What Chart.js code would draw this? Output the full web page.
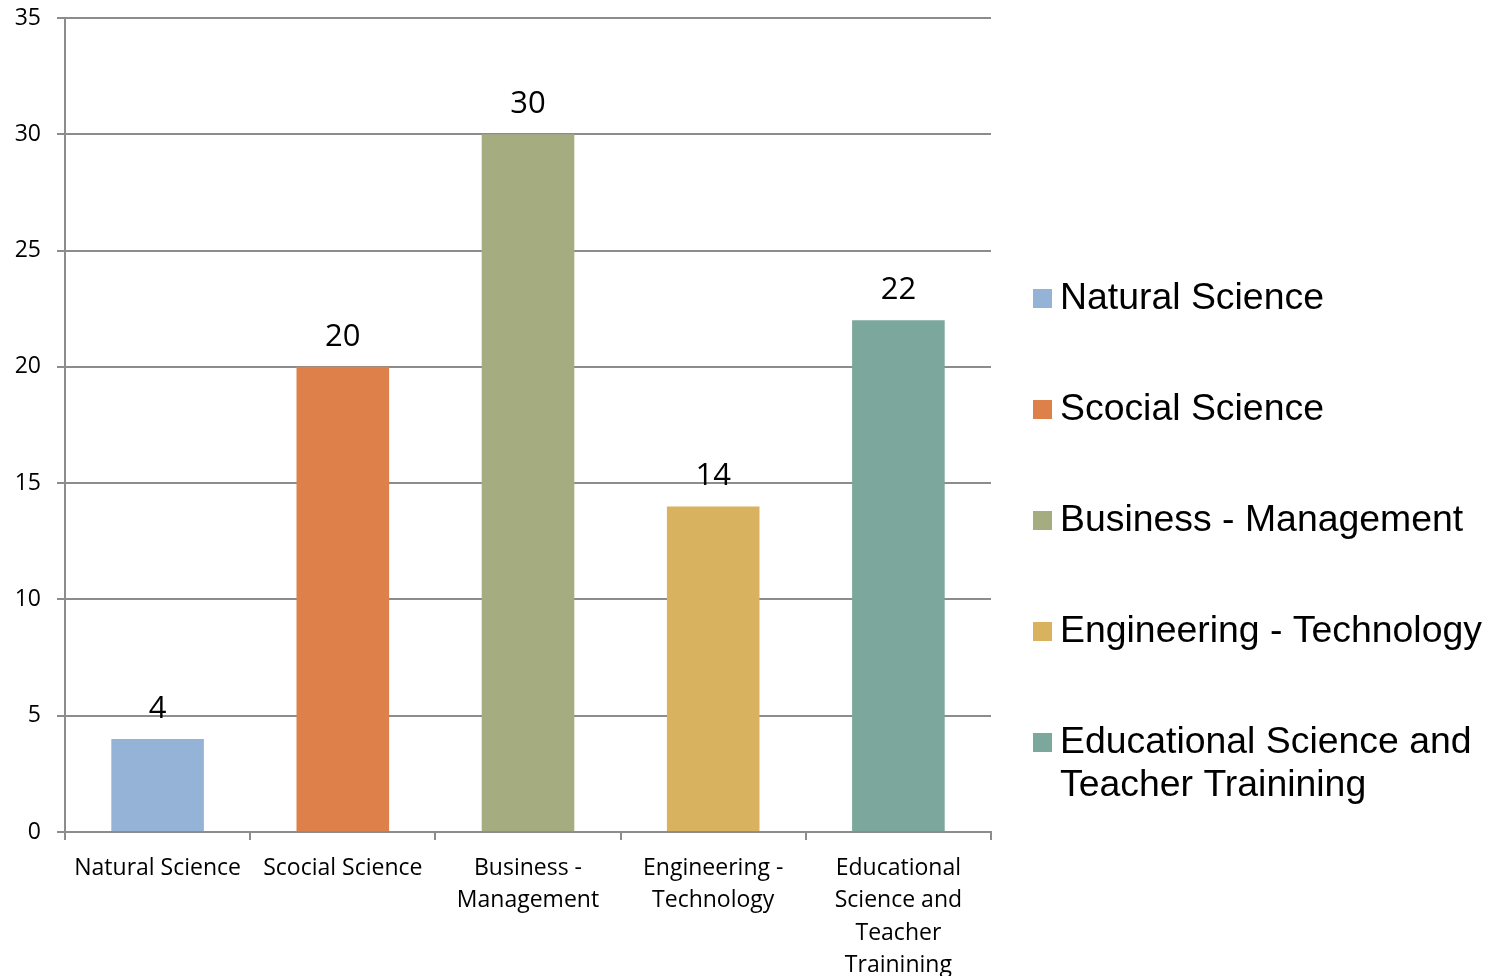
<!DOCTYPE html>
<html>
<head>
<meta charset="utf-8">
<script src="https://cdn.jsdelivr.net/npm/chart.js@4.4.1/dist/chart.umd.min.js"></script>
<style>
  html, body { margin: 0; padding: 0; background: #fff; }
  #wrap { position: relative; width: 1495px; height: 976px; }
</style>
</head>
<body>
<div id="wrap"><canvas id="chart" width="1495" height="976"></canvas></div>
<script>
// Dados do gráfico
const categories = ['Natural Science', 'Scocial Science', 'Business - Management', 'Engineering - Technology', 'Educational Science and Teacher Trainining'];
const tickLabels = [['Natural Science'], ['Scocial Science'], ['Business -', 'Management'], ['Engineering -', 'Technology'], ['Educational', 'Science and', 'Teacher', 'Trainining']];
const legendLines = [['Natural Science'], ['Scocial Science'], ['Business - Management'], ['Engineering - Technology'], ['Educational Science and', 'Teacher Trainining']];
const values = [4, 20, 30, 14, 22];
const barColors = ['#95b3d7', '#dd8049', '#a4ac80', '#d8b25e', '#7ba79c'];

const axisFont = "'Open Sans', sans-serif";
const legendFont = "'Liberation Sans', Arial, sans-serif";
const lineGray = '#8c8c8c';

// Rótulos de valor acima das barras
const valueLabels = {
    id: 'valueLabels',
    afterDatasetsDraw(chart) {
        const ctx = chart.ctx;
        const meta = chart.getDatasetMeta(0);
        ctx.save();
        ctx.font = "31px " + axisFont;
        ctx.fillStyle = '#000';
        ctx.textAlign = 'center';
        ctx.textBaseline = 'alphabetic';
        meta.data.forEach((bar, i) => {
            ctx.fillText(String(values[i]), bar.x, bar.y - 21);
        });
        ctx.restore();
    }
};

// Legenda à direita (com quebra de linha)
const sideLegend = {
    id: 'sideLegend',
    afterDraw(chart) {
        const ctx = chart.ctx;
        const x0 = chart.chartArea.right + 42;
        let y = 299;
        ctx.save();
        ctx.font = "37.4px " + legendFont;
        ctx.textBaseline = 'middle';
        ctx.textAlign = 'left';
        legendLines.forEach((lines, i) => {
            ctx.fillStyle = barColors[i];
            ctx.fillRect(x0, y - 10, 19, 19);
            ctx.fillStyle = '#000';
            lines.forEach((t, j) => ctx.fillText(t, x0 + 27, y + j * 43));
            y += 111;
        });
        ctx.restore();
    }
};

new Chart(document.getElementById('chart').getContext('2d'), {
    type: 'bar',
    data: {
        labels: tickLabels,
        datasets: [{
            label: 'Values',
            data: values,
            backgroundColor: barColors,
            borderWidth: 0,
            categoryPercentage: 1,
            barPercentage: 0.5
        }]
    },
    options: {
        responsive: false,
        animation: false,
        devicePixelRatio: 1,
        layout: { padding: { top: 18, right: 504, left: 0, bottom: 0 } },
        plugins: { legend: { display: false }, tooltip: { enabled: false } },
        scales: {
            x: {
                afterFit(scale) { scale.height = 144; scale.paddingLeft = 0; scale.paddingRight = 0; },
                grid: { offset: true, drawOnChartArea: false, tickLength: 8, color: lineGray, lineWidth: 2 },
                border: { color: lineGray, width: 2 },
                ticks: { color: '#000', font: { family: axisFont, size: 23, lineHeight: 1.41 }, padding: 12, maxRotation: 0, autoSkip: false }
            },
            y: {
                min: 0, max: 35,
                afterFit(scale) { scale.width = 65; scale.paddingTop = 0; scale.paddingBottom = 0; },
                grid: { color: lineGray, lineWidth: 2, tickLength: 8 },
                border: { color: lineGray, width: 2 },
                ticks: { stepSize: 5, color: '#000', font: { family: axisFont, size: 23 }, padding: 16 }
            }
        }
    },
    plugins: [valueLabels, sideLegend]
});
</script>
</body>
</html>
